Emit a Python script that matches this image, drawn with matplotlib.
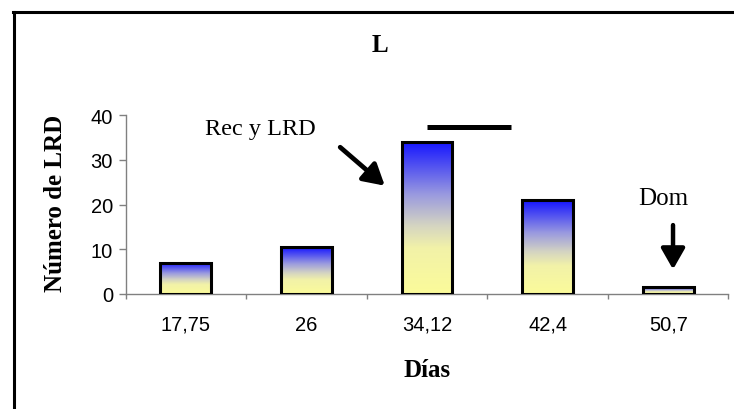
import numpy as np
import matplotlib
matplotlib.use('Agg')
import matplotlib.pyplot as plt
from matplotlib.colors import LinearSegmentedColormap
from matplotlib.lines import Line2D


W, H = 734, 410
SERIF = 'Liberation Serif'
SANS = 'Liberation Sans'

# data
dias = ['17,75', '26', '34,12', '42,4', '50,7']
n_lrd = [7, 10.5, 34, 21, 1.5]
y_ticks = [0, 10, 20, 30, 40]

# blue -> grey -> yellow fill used in every bar (bottom to top)
grad = LinearSegmentedColormap.from_list('lrd', [
    (0.0, '#FBFB9A'), (0.3, '#F2F2A8'), (0.45, '#D4D4C2'),
    (0.65, '#9A9ADF'), (1.0, '#1414FF')])


fig = plt.figure(figsize=(W / 100, H / 100), dpi=100)
fig.patch.set_facecolor('white')

# axes placed in pixel terms
ax = fig.add_axes([125.5 / W, 1 - 295 / H, (728.5 - 125.5) / W, (295 - 116) / H])

x = np.arange(len(dias))
bw = 0.42
bars = ax.bar(x, n_lrd, width=bw, facecolor='none', edgecolor='black',
              linewidth=2.2, zorder=3)

# gradient inside each bar
ramp = np.linspace(0, 1, 256).reshape(-1, 1)
for rect in bars:
    bx, bh = rect.get_x(), rect.get_height()
    im = ax.imshow(ramp, cmap=grad, origin='lower', aspect='auto',
                   extent=[bx, bx + rect.get_width(), 0, bh], zorder=2)
    im.set_clip_path(rect)

ax.set_xlim(-0.5, len(dias) - 0.5)
ax.set_ylim(0, 40)

# axis styling
for s in ['top', 'right']:
    ax.spines[s].set_visible(False)
for s in ['left', 'bottom']:
    ax.spines[s].set_color('#808080')
    ax.spines[s].set_linewidth(1.0)

ax.set_yticks(y_ticks)
ax.set_yticklabels([str(v) for v in y_ticks], family=SANS, fontsize=14.5)
ax.tick_params(axis='y', length=5, width=1, color='#808080', pad=4)

ax.set_xticks(x)
ax.set_xticklabels(dias, family=SANS, fontsize=14.5)
ax.set_xticks(np.arange(len(dias) + 1) - 0.5, minor=True)
ax.tick_params(axis='x', which='major', length=0, pad=15)
ax.tick_params(axis='x', which='minor', length=3.6, width=1, color='#808080')

# annotations
ax.plot([2.0, 2.7], [37.3, 37.3], color='black', lw=3.6, solid_capstyle='butt',
        clip_on=False)
ax.text(0.62, 35.8, 'Rec y LRD', family=SERIF, fontsize=17.5, ha='center',
        va='baseline', clip_on=False)
ax.annotate('', xy=(1.65, 24.2), xytext=(1.28, 32.8),
            arrowprops=dict(arrowstyle='-|>,head_length=0.7,head_width=0.4',
                            lw=3.4, color='black', mutation_scale=18,
                            shrinkA=0, shrinkB=0))
ax.text(3.96, 20.1, 'Dom', family=SERIF, fontsize=18, ha='center',
        va='baseline')
ax.annotate('', xy=(4.04, 5.5), xytext=(4.04, 15.4),
            arrowprops=dict(arrowstyle='-|>,head_length=0.7,head_width=0.4',
                            lw=3.2, color='black', mutation_scale=18,
                            shrinkA=0, shrinkB=0))

# titles
fig.text(380 / W, 1 - 45 / H, 'L', family=SERIF, fontsize=18,
         fontweight='bold', ha='center', va='center')
fig.text(427 / W, 1 - 371 / H, 'Días', family=SERIF, fontsize=18,
         fontweight='bold', ha='center', va='center')
fig.text(56 / W, 1 - 203 / H, 'Número de LRD', family=SERIF, fontsize=18,
         fontweight='bold', ha='center', va='center', rotation=90)

# frame around the chart (right/bottom edges are cut off)
fig.add_artist(Line2D([13.7 / W, 13.7 / W], [0, 1 - 12.5 / H], color='black',
                      lw=2.2, transform=fig.transFigure))
fig.add_artist(Line2D([12.6 / W, 1], [1 - 12.5 / H, 1 - 12.5 / H],
                      color='black', lw=2.2, transform=fig.transFigure))

fig.savefig('out.png', dpi=100)
